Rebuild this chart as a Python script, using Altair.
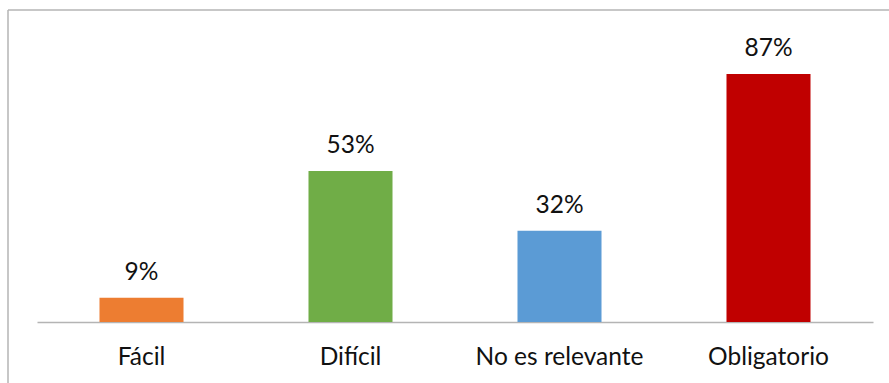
import altair as alt
import pandas as pd

categories = ["Fácil", "Difícil", "No es relevante", "Obligatorio"]
values = [8.5, 53, 32, 87]
value_labels = ["9%", "53%", "32%", "87%"]
colors = ["#ED7D31", "#70AD47", "#5B9BD5", "#C00000"]

df = pd.DataFrame({"cat": categories, "val": values, "lab": value_labels, "col": colors})

FONT = "Lato"
GREY = "#b4b4b4"

x = alt.X("cat:N", sort=None,
          scale=alt.Scale(paddingInner=0.598, paddingOuter=0.299),
          axis=alt.Axis(title=None, labelAngle=0, ticks=False, tickSize=0,
                        domainColor=GREY, domainWidth=1.5,
                        labelFont=FONT, labelFontSize=24.5, labelColor="#111111",
                        labelBaseline="alphabetic", labelPadding=42))
y = alt.Y("val:Q", scale=alt.Scale(domain=[0, 100]), axis=None)

base = alt.Chart(df)
bars = base.mark_bar().encode(x=x, y=y, color=alt.Color("col:N", scale=None))
text = base.mark_text(font=FONT, fontSize=24.5, dy=-18, baseline="alphabetic",
                      color="#111111").encode(x=x, y=y, text="lab:N")

frame = alt.Chart(pd.DataFrame({"a": [0]}))
top_rule = frame.mark_rule(color=GREY, strokeWidth=1.5).encode(
    x=alt.value(-29), x2=alt.value(870), y=alt.value(-27))
left_rule = frame.mark_rule(color=GREY, strokeWidth=1.5).encode(
    x=alt.value(-29), y=alt.value(-27), y2=alt.value(400))

chart = alt.layer(bars, text, top_rule, left_rule).properties(
    width=836, height=285,
    autosize=alt.AutoSizeParams(type="none"),
    padding={"left": 37, "top": 37, "right": 16, "bottom": 61},
).configure(background="white").configure_view(strokeWidth=0, stroke=None)

chart.save("out.html", embed_options={"renderer": "svg", "actions": False})
